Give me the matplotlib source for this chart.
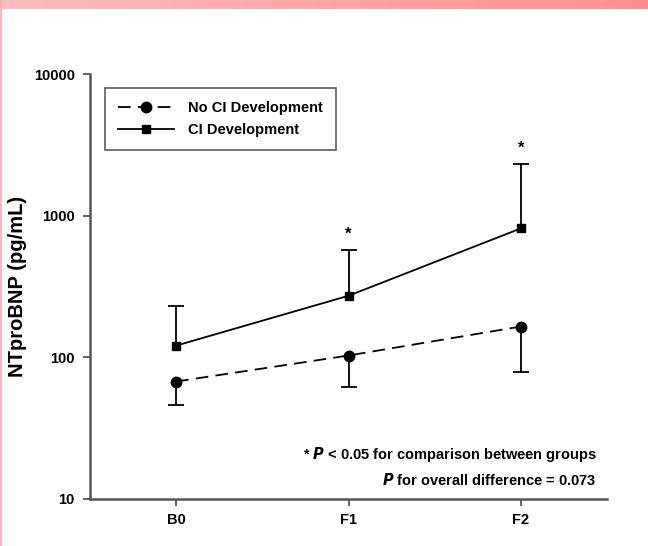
import matplotlib
matplotlib.use("Agg")
import matplotlib.pyplot as plt
import numpy as np
from matplotlib.lines import Line2D
from matplotlib.colors import LinearSegmentedColormap

plt.rcParams['font.family'] = ['Liberation Sans', 'DejaVu Sans']

timepoints = ["B0", "F1", "F2"]
no_ci_mean = [67.5, 103, 165]
no_ci_lower = [46, 62, 79]            # lower end of error bar
ci_mean = [121, 272, 813]
ci_upper = [232, 573, 2305]           # upper end of error bar
sig_labels = ["", "*", "*"]
yticks = [10, 100, 1000, 10000]

W, H = 648, 546
fig = plt.figure(figsize=(W / 100, H / 100), dpi=100)

# pink gradient header bar and left edge line
grad = np.linspace(0, 1, 256).reshape(1, -1)
cmap = LinearSegmentedColormap.from_list("pk", ["#ffbcbc", "#ff8f8f"])
hax = fig.add_axes([0, 1 - 9 / H, 1, 9 / H])
hax.imshow(grad, aspect="auto", cmap=cmap)
hax.axis("off")
fig.add_artist(Line2D([0.5 / W, 0.5 / W], [0, 1], color="#ffaaaa", lw=1.2, transform=fig.transFigure))

ax = fig.add_axes([90 / W, 1 - 499 / H, (607 - 90) / W, (499 - 74) / H])
x = np.arange(len(timepoints))

# one-sided error bars
ax.vlines(x, no_ci_mean, no_ci_lower, color="black", lw=1.3, zorder=2)
ax.plot(x, no_ci_lower, ls="none", marker="_", markersize=11, mew=1.3, color="black", zorder=2)
ax.vlines(x, ci_mean, ci_upper, color="black", lw=1.3, zorder=2)
ax.plot(x, ci_upper, ls="none", marker="_", markersize=11, mew=1.3, color="black", zorder=2)

ax.plot(x, no_ci_mean, color="black", lw=1.3, ls=(0, (7, 4)), marker="o",
        markersize=7.5, label="No CI Development", zorder=3)
ax.plot(x, ci_mean, color="black", lw=1.3, ls="-", marker="s",
        markersize=6, label="CI Development", zorder=3)

for xi, lab, top in zip(x, sig_labels, ci_upper):
    if lab:
        ax.annotate(lab, (xi, top), xytext=(0, 6), textcoords="offset points",
                    ha="center", va="bottom", fontsize=12, fontweight="bold")

ax.set_yscale("log")
ax.set_ylim(10, 10000)
ax.set_xlim(-0.5, 2.5)
ax.set_yticks(yticks)
ax.set_yticklabels([str(v) for v in yticks])
ax.yaxis.set_minor_locator(matplotlib.ticker.NullLocator())
ax.set_xticks(x)
ax.set_xticklabels(timepoints)
for lab in ax.get_xticklabels() + ax.get_yticklabels():
    lab.set_fontweight("bold")
    lab.set_fontsize(10.5)
ax.tick_params(axis="both", direction="out", length=5, width=1.3, color="#555555", pad=6)
ax.tick_params(axis="x", pad=5)
for s in ["top", "right"]:
    ax.spines[s].set_visible(False)
for s in ["left", "bottom"]:
    ax.spines[s].set_linewidth(1.8)
    ax.spines[s].set_color("#555555")

ax.set_ylabel("NTproBNP (pg/mL)", fontsize=14.5, fontweight="bold", labelpad=5)

leg = ax.legend(loc="upper left", bbox_to_anchor=(15 / 517, 1 - 14 / 425), frameon=True,
                fancybox=False, edgecolor="#333333",
                prop={"weight": "bold", "size": 10.5}, handlelength=3.8,
                borderpad=0.9, labelspacing=0.55, handletextpad=1.0, borderaxespad=0)
leg.get_frame().set_linewidth(1.2)

ax.text(0.98, 0.105, r"* $\boldsymbol{P}$ < 0.05 for comparison between groups",
        transform=ax.transAxes, ha="right", va="center", fontsize=10.5, fontweight="bold")
ax.text(0.98, 0.045, r"$\boldsymbol{P}$ for overall difference = 0.073",
        transform=ax.transAxes, ha="right", va="center", fontsize=10.5, fontweight="bold")

fig.savefig("out.png", dpi=100)
